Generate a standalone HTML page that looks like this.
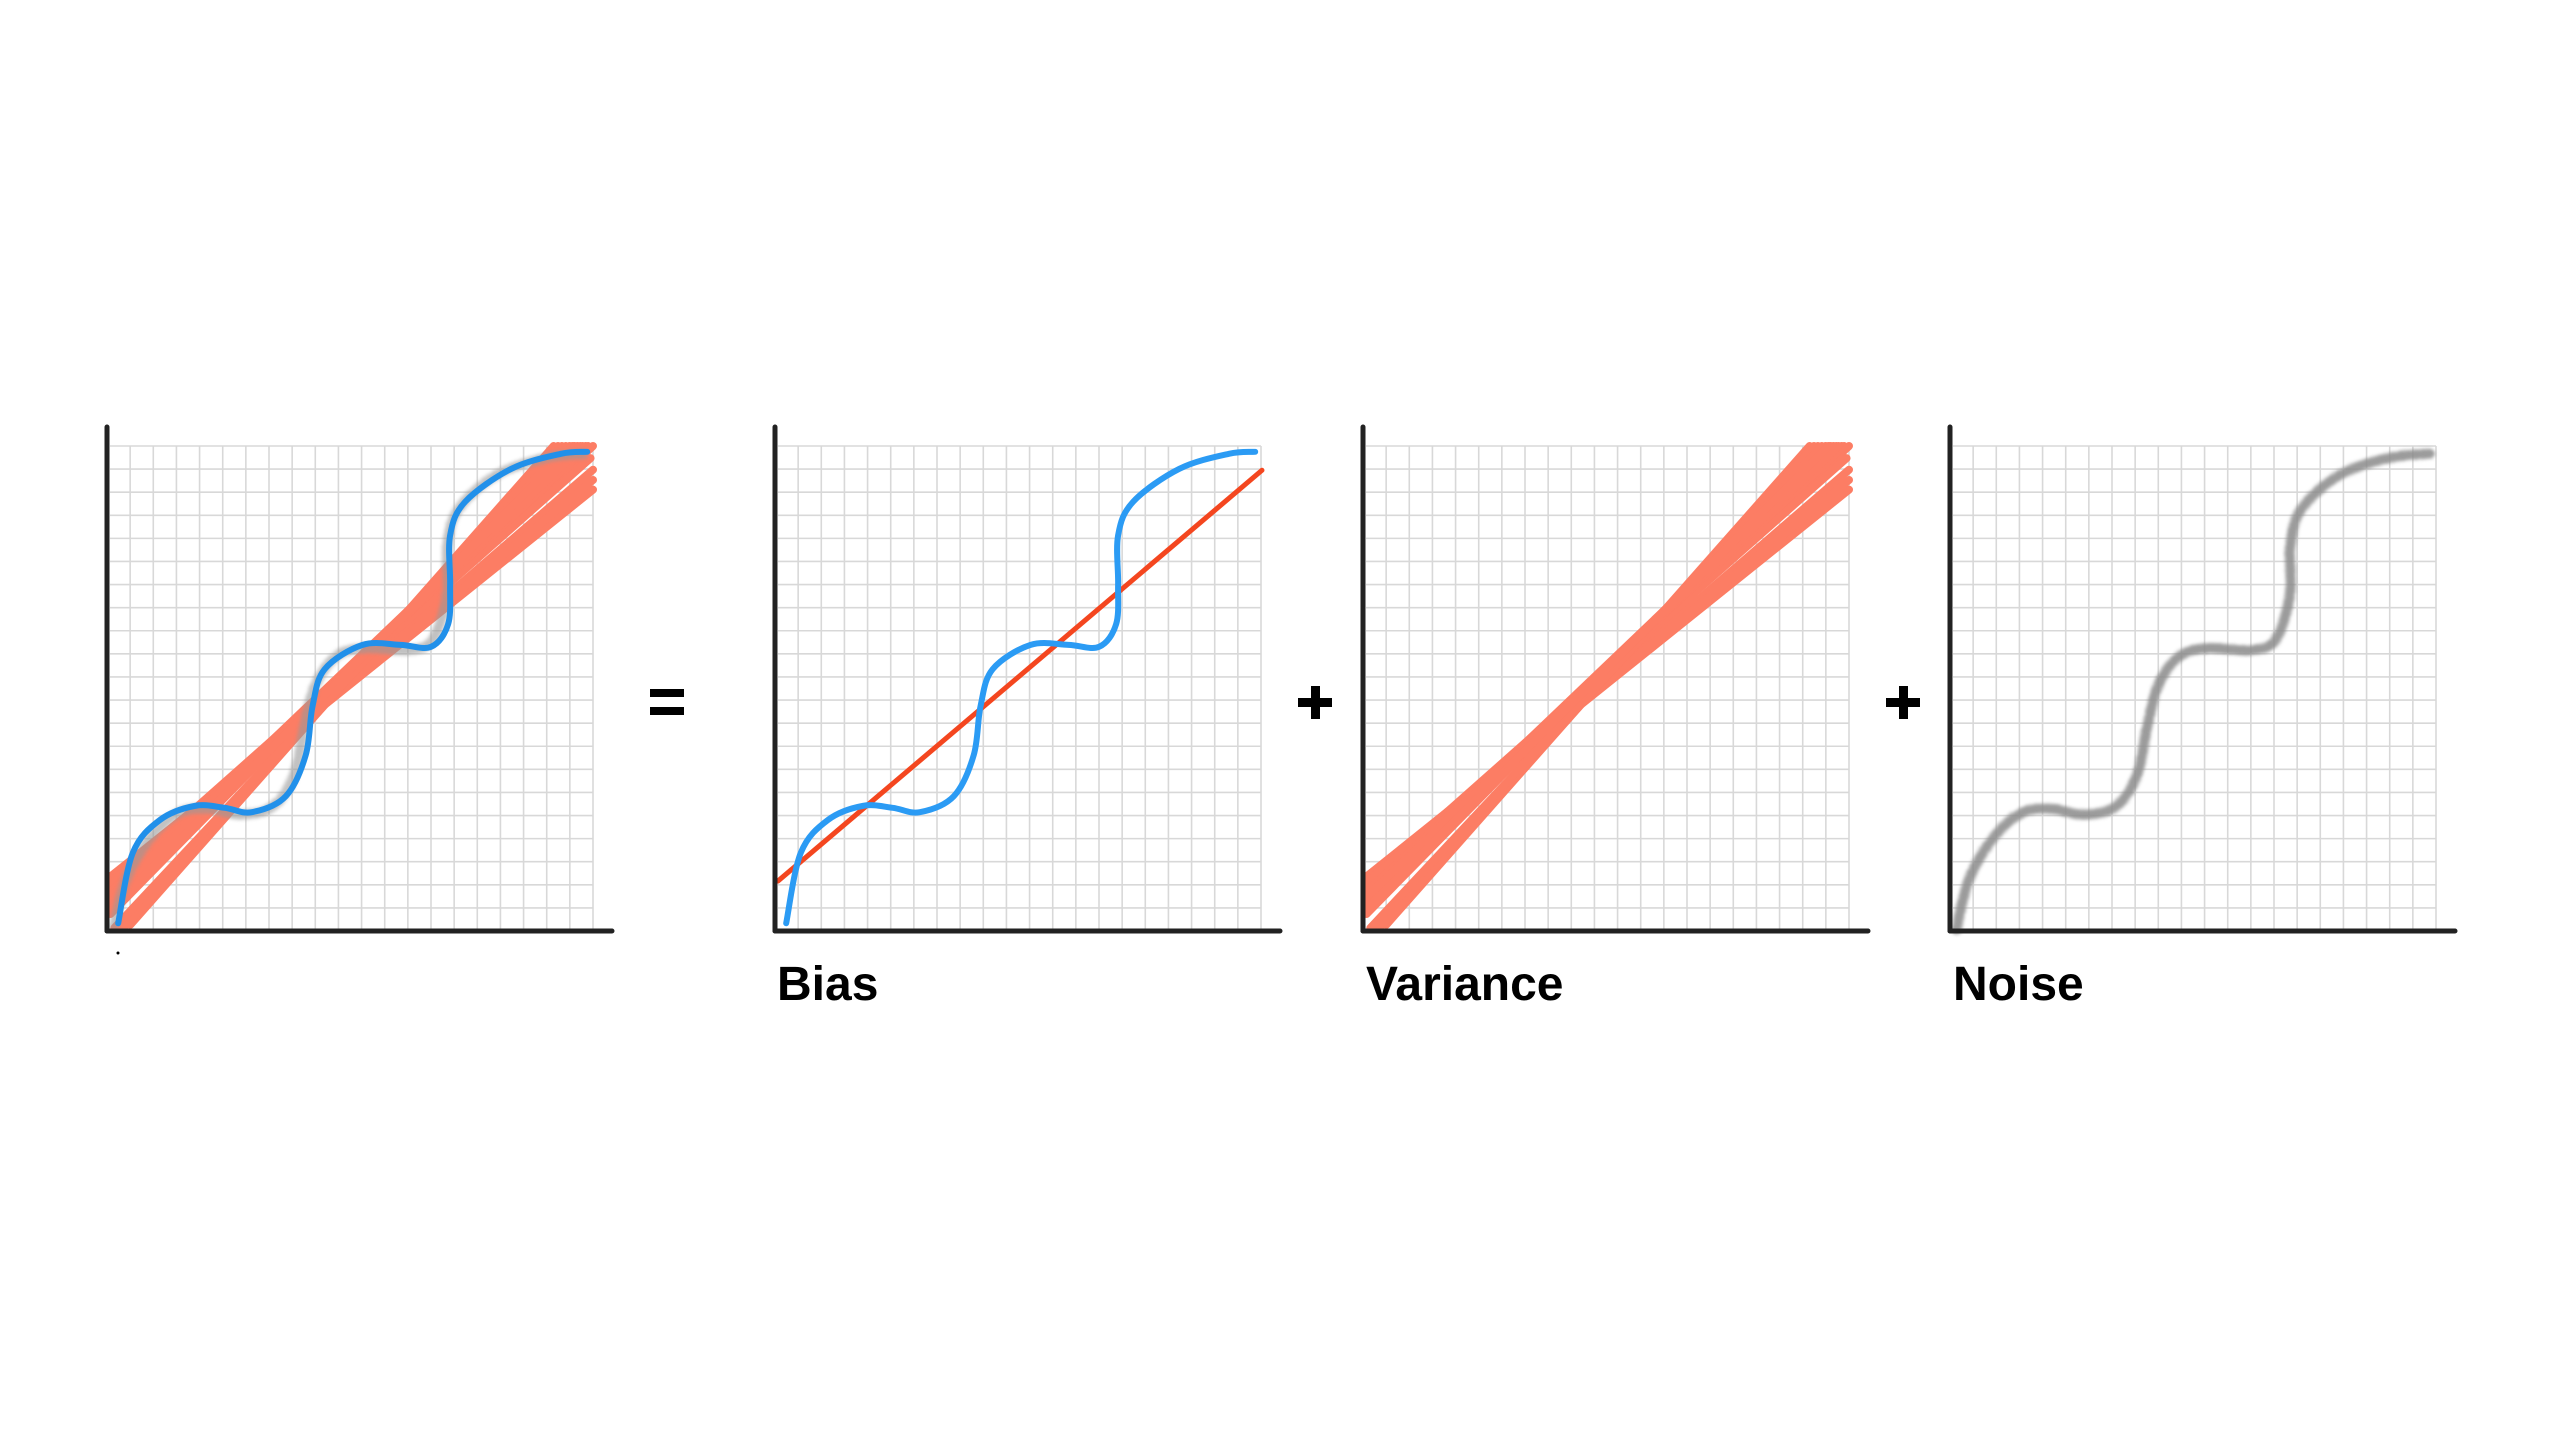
<!DOCTYPE html>
<html><head><meta charset="utf-8">
<style>
html,body{margin:0;padding:0;background:#fff;}
body{width:2561px;height:1441px;overflow:hidden;position:relative;}
svg{position:absolute;left:0;top:0;}
.lbl{font-family:"Liberation Sans",sans-serif;font-weight:bold;font-size:48px;fill:#000;}
</style></head>
<body>
<svg id="chart" width="2561" height="1441" viewBox="0 0 2561 1441">
<defs>
<filter id="fuzz" x="-5%" y="-5%" width="110%" height="110%">
<feTurbulence type="fractalNoise" baseFrequency="0.9" numOctaves="2" result="n"/>
<feDisplacementMap in="SourceGraphic" in2="n" scale="5"/>
<feGaussianBlur stdDeviation="1.6"/>
</filter>
</defs>
<g id="panels"></g>
<g>
<rect x="650" y="689" width="34" height="8" fill="#000"/>
<rect x="650" y="707" width="34" height="8" fill="#000"/>
</g>
<g>
<rect x="1298" y="698" width="34" height="9" fill="#000"/>
<rect x="1311" y="686" width="9" height="33" fill="#000"/>
</g>
<g>
<rect x="1886" y="698" width="34" height="9" fill="#000"/>
<rect x="1899" y="686" width="9" height="33" fill="#000"/>
</g>
<circle cx="118" cy="953" r="1.5" fill="#000"/>
<text class="lbl" x="777" y="1000">Bias</text>
<text class="lbl" x="1366" y="1000">Variance</text>
<text class="lbl" x="1953" y="1000">Noise</text>
</svg>
<script>
// data units: x 0..100, y 0..100 across the grid area
const trueX = [2.3,5.3,10.9,18.1,24.2,29.8,36.8,40.9,42.3,44.8,52.6,60.4,66.7,70.2,70.6,70.6,73.7,83.2,93.4,98.8];
const trueY = [1.6,16.1,22.9,25.8,25.4,24.5,27.8,36.3,46.4,54.0,59.0,59.0,58.6,63.3,71.5,81.6,88.5,95.3,98.4,98.8];
const noiseX = [1.3,3.9,9.0,14.9,20.8,27.4,34.0,38.4,40.6,42.9,47.3,53.1,62.0,67.1,70.0,70.0,72.3,80.3,90.6,98.7];
const noiseY = [0.3,10.6,19.3,24.4,25.2,24.0,25.6,31.9,42.2,50.8,56.7,58.3,57.9,60.2,69.7,79.2,87.0,94.1,97.6,98.4];
const fitX0 = [0.7,0.7,0.7,0.7,0.7,0.7,0.7,2.6,4.8,0.7,3.6,0.7,0.7,0.7,1.5,0.7,0.7];
const fitY0 = [11.2,9.3,7.5,6.4,5.3,3.5,10.2,0.5,1.3,8.4,0.9,9.8,8.0,5.9,0.6,7.0,4.4];
const fitX1 = [100,100,97.4,98.5,96.2,95.2,100,93.6,91.9,100,92.8,99.5,99.0,96.8,94.4,97.9,95.8];
const fitY1 = [91,95.1,100,100,100,100,93,100,100,100,100,97.5,100,100,100,100,100];
const biasX = [0.6,100.2];
const biasY = [10.3,95.0];
const panelOrigins = [107,775,1363,1950];

const NS='http://www.w3.org/2000/svg';
const OY=931, W=486, H=485;
function mk(tag,attrs,parent){const e=document.createElementNS(NS,tag);for(const k in attrs)e.setAttribute(k,attrs[k]);parent.appendChild(e);return e;}
function sx(o,v){return o+v/100*W;}
function sy(v){return OY-v/100*H;}
function smooth(o,xs,ys){
  const p=xs.map((x,i)=>[sx(o,x),sy(ys[i])]);
  let d='M'+p[0][0]+','+p[0][1];
  for(let i=0;i<p.length-1;i++){
    const p0=p[Math.max(0,i-1)],p1=p[i],p2=p[i+1],p3=p[Math.min(p.length-1,i+2)];
    const c1=[p1[0]+(p2[0]-p0[0])/6,p1[1]+(p2[1]-p0[1])/6];
    const c2=[p2[0]-(p3[0]-p1[0])/6,p2[1]-(p3[1]-p1[1])/6];
    d+=' C'+c1[0]+','+c1[1]+' '+c2[0]+','+c2[1]+' '+p2[0]+','+p2[1];
  }
  return d;
}
const root=document.getElementById('panels');
panelOrigins.forEach((o,pi)=>{
  const g=mk('g',{},root);
  
  
  const grid=mk('g',{stroke:'#d8d8d8','stroke-width':'1.6'},g);
  
  
  for(let k=1;k<=21;k++){
    const x=o+k*W/21;
    mk('line',{x1:x,y1:OY-H,x2:x,y2:OY},grid);
    const y=OY-k*H/21;
    mk('line',{x1:o+3,y1:y,x2:o+W,y2:y},grid);
  }
  if(pi===0||pi===2){
    const fits=mk('g',{stroke:'#fc7d64','stroke-width':'8','stroke-linecap':'round'},g);
    
    
    for(let i=0;i<fitX0.length;i++){
      const l=mk('line',{x1:sx(o,fitX0[i]),y1:sy(fitY0[i]),x2:sx(o,fitX1[i]),y2:sy(fitY1[i])},fits);
      
      
    }
  }
  if(pi===0){
    const h=mk('path',{d:smooth(o,noiseX,noiseY),fill:'none',stroke:'#999','stroke-width':'10',opacity:'0.6',filter:'url(#fuzz)'},g);
    
    
  }
  if(pi===1){
    const b=mk('line',{x1:sx(o,biasX[0]),y1:sy(biasY[0]),x2:sx(o,biasX[1]),y2:sy(biasY[1]),stroke:'#f4461f','stroke-width':'5','stroke-linecap':'round'},g);
    
    
  }
  if(pi<=1){
    const t=mk('path',{d:smooth(o,trueX,trueY),fill:'none',stroke:pi===0?'#2190ea':'#2b9bf4','stroke-width':'6','stroke-linecap':'round'},g);
    
    
  }
  if(pi===3){
    const n=mk('path',{d:smooth(o,noiseX,noiseY),fill:'none',stroke:'#8a8a8a','stroke-width':'10','stroke-linecap':'round',opacity:'0.85',filter:'url(#fuzz)'},g);
    
    
  }
  const ax=mk('g',{stroke:'#222','stroke-width':'5','stroke-linecap':'round'},g);
  
  
  mk('line',{x1:o,y1:427,x2:o,y2:OY},ax);
  mk('line',{x1:o,y1:OY,x2:o+505,y2:OY},ax);
});
</script>
</body></html>
